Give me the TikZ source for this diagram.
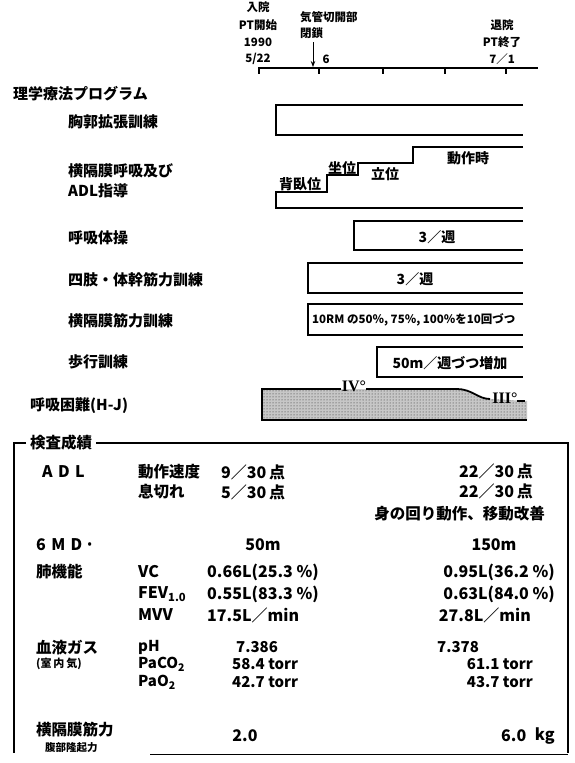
\documentclass[tikz,border=0pt]{standalone}
\usepackage{fontspec}
\setmainfont{Noto Sans CJK JP}
\newfontfamily\romfont{Liberation Serif}
\usetikzlibrary{patterns,arrows.meta}
\begin{document}
\begin{tikzpicture}[x=1pt,y=-1pt,
  lbl/.style={anchor=west,inner sep=0pt,font=\fontsize{15}{17}\selectfont\bfseries},
  hdr/.style={inner sep=0pt,font=\fontsize{11.5}{13}\selectfont\bfseries},
  tj/.style={anchor=west,inner sep=0pt,font=\fontsize{15.5}{17}\selectfont\bfseries},
  val/.style={anchor=west,inner sep=0pt,font=\fontsize{16}{18}\selectfont\bfseries},
  valr/.style={anchor=east,inner sep=0pt,font=\fontsize{16}{18}\selectfont\bfseries},
  valc/.style={inner sep=0pt,font=\fontsize{16}{18}\selectfont\bfseries},
  gv/.style={anchor=west,inner sep=0pt,font=\fontsize{15}{17}\selectfont\bfseries},
  gvr/.style={anchor=east,inner sep=0pt,font=\fontsize{15}{17}\selectfont\bfseries},
  small/.style={anchor=west,inner sep=0pt,font=\fontsize{10.5}{12}\selectfont\bfseries},
  stair/.style={inner sep=0pt,font=\fontsize{14}{15}\selectfont\bfseries},
  inbox/.style={inner sep=0pt,font=\fontsize{14}{15}\selectfont\bfseries},
  bar/.style={line width=1.3pt},
  rom/.style={inner sep=0pt,font=\fontsize{16}{18}\selectfont\romfont\bfseries},
]
\useasboundingbox[fill=white] (0,0) rectangle (574,763);

% ---- header ----
\node[hdr] (adm1) at (258,7) {入院};
\node[hdr] (adm2) at (258,25) {PT開始};
\node[hdr] (adm3) at (258,42) {1990};
\node[hdr] (adm4) at (258,59) {5/22};
\node[hdr,anchor=west] (tr1) at (300,17) {気管切開部};
\node[hdr,anchor=west] (tr2) at (300,33) {閉鎖};
\node[hdr] (six) at (326,59) {6};
\node[hdr] (dis1) at (502,25) {退院};
\node[hdr] (dis2) at (502,42) {PT終了};
\node[hdr] (dis3) at (502,59) {7／1};
\coordinate (atop) at (313,42);
\coordinate (abot) at (313,67);
\draw[line width=0.9pt,-{Stealth[length=6pt,width=4.5pt]}] (atop) -- (abot);
\coordinate (ax0) at (259,68);
\coordinate (ax1) at (538,68);
\draw[line width=1.5pt] (ax0) -- (ax1);
\foreach \tx in {259,319,383,445,506}
  \draw[line width=1.2pt] (\tx,67) -- (\tx,74);

% ---- program ----
\node[lbl] (prog) at (13,94) {理学療法プログラム};
\node[lbl] (p1) at (68,122) {胸郭拡張訓練};
\node[lbl] (p2a) at (68,171) {横隔膜呼吸及び};
\node[lbl] (p2b) at (68,191) {ADL指導};
\node[lbl] (p3) at (68,238) {呼吸体操};
\node[lbl] (p4) at (68,280) {四肢・体幹筋力訓練};
\node[lbl] (p5) at (68,321) {横隔膜筋力訓練};
\node[lbl] (p6) at (68,362) {歩行訓練};
\node[lbl] (p7) at (30,406) {呼吸困難(H-J)};

\draw[bar] (523,105) -- (276,105) -- (276,135) -- (523,135);
\draw[bar] (523,147) -- (413,147) -- (413,163) -- (358,163) -- (358,175)
  -- (327,175) -- (327,192) -- (276,192) -- (276,208) -- (523,208);
\node[stair] (s1) at (300,184) {背臥位};
\node[stair] (s2) at (342,168) {坐位};
\node[stair] (s3) at (385,174) {立位};
\node[stair] (s4) at (468,158) {動作時};

\draw[bar] (523,221) -- (354,221) -- (354,250) -- (523,250);
\node[inbox] (b3) at (437,237) {3／週};
\draw[bar] (523,263) -- (308,263) -- (308,293) -- (523,293);
\node[inbox] (b4) at (415,279) {3／週};
\draw[bar] (523,304) -- (308,304) -- (308,335) -- (523,335);
\node[small,font=\fontsize{11.5}{13}\selectfont\bfseries] (b5) at (312,320) {10RM の50％, 75％, 100％を10回づつ};
\draw[bar] (523,347) -- (377,347) -- (377,377) -- (523,377);
\node[inbox] (b6) at (450,363) {50m／週づつ増加};

% dyspnea
\fill[black!22] (262,389) -- (457,389)
  .. controls (472,389) and (478,399) .. (490,399) -- (527,401)
  -- (527,420) -- (262,420) -- cycle;
\fill[pattern=dots,pattern color=black!85] (262,389) -- (457,389)
  .. controls (472,389) and (478,399) .. (490,399) -- (527,401)
  -- (527,420) -- (262,420) -- cycle;
\draw[bar] (341,389) -- (262,389) -- (262,420) -- (527,420);
\draw[line width=1.8pt] (366,389) -- (457,389) .. controls (472,389) and (478,399) .. (490,399);
\node[rom] (g4) at (354,386) {IV°};
\node[rom] (g3) at (505,398) {III°};
\draw[line width=1.8pt] (517,401) -- (525,401);

% ---- test results ----
\node[lbl,font=\fontsize{15.5}{17}\selectfont\bfseries] (tt) at (30,443) {検査成績};
\draw[bar] (26,443) -- (14,443) -- (14,753);
\draw[bar] (tt.east) ++(4,0) -- (568,443) -- (568,753);
\draw[line width=0.8pt] (150,754) -- (568,754);

\node[val] (adl) at (42,472) {A\,\,D\,\,L};
\node[tj] (adl1) at (138,472) {動作速度};
\node[val] (adl1a) at (221,472) {9／30\,点};
\node[valr] (adl1b) at (533,471) {22／30\,点};
\node[tj] (adl2) at (138,492) {息切れ};
\node[val] (adl2a) at (221,492) {5／30\,点};
\node[valr] (adl2b) at (533,491) {22／30\,点};
\node[tj,anchor=east] (adl3) at (545,514) {身の回り動作、移動改善};

\node[val] (smd) at (36,545) {6\,\,M\,\,D\,·};
\node[valc] (smda) at (263,545) {50m};
\node[valc] (smdb) at (494,545) {150m};

\node[tj] (lung) at (36,572) {肺機能};
\node[val] (vc) at (138,572) {VC};
\node[val] (vca) at (207,572) {0.66L(25.3 \%)};
\node[valr] (vcb) at (555,572) {0.95L(36.2 \%)};
\node[val] (fev) at (138,594) {FEV\textsubscript{1.0}};
\node[val] (feva) at (207,594) {0.55L(83.3 \%)};
\node[valr] (fevb) at (555,594) {0.63L(84.0 \%)};
\node[val] (mvv) at (138,615) {MVV};
\node[val] (mvva) at (207,615) {17.5L／min};
\node[valr] (mvvb) at (531,615) {27.8L／min};

\node[tj] (gas) at (36,648) {血液ガス};
\node[small,font=\fontsize{11}{12}\selectfont\bfseries] (air) at (36,664) {(室\,内\,気)};
\node[gv] (ph) at (138,647) {pH};
\node[gv] (pha) at (236,647) {7.386};
\node[gv] (phb) at (437,647) {7.378};
\node[gv] (co2) at (138,664) {PaCO\textsubscript{2}};
\node[gv] (co2a) at (232,664) {58.4 torr};
\node[gvr] (co2b) at (533,664) {61.1 torr};
\node[gv] (o2) at (138,682) {PaO\textsubscript{2}};
\node[gv] (o2a) at (232,682) {42.7 torr};
\node[gvr] (o2b) at (533,682) {43.7 torr};

\node[tj] (dia) at (36,730) {横隔膜筋力};
\node[small,font=\fontsize{10.5}{12}\selectfont\bfseries] (dia2) at (45,748) {腹部隆起力};
\node[valc] (diaa) at (245,736) {2.0};
\node[val] (diab) at (501,736) {6.0};
\node[valr] (diakg) at (555,736) {kg};
\end{tikzpicture}
\end{document}
